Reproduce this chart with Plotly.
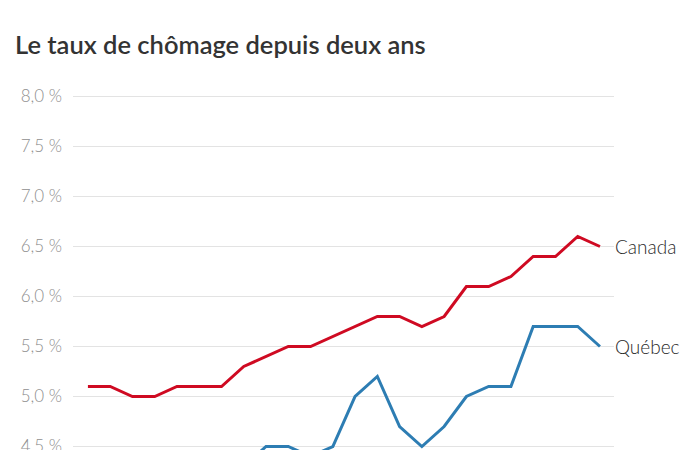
import plotly.graph_objects as go

months = ["2022-10", "2022-11", "2022-12", "2023-01", "2023-02", "2023-03",
          "2023-04", "2023-05", "2023-06", "2023-07", "2023-08", "2023-09",
          "2023-10", "2023-11", "2023-12", "2024-01", "2024-02", "2024-03",
          "2024-04", "2024-05", "2024-06", "2024-07", "2024-08", "2024-09"]
canada = [5.1, 5.1, 5.0, 5.0, 5.1, 5.1, 5.1, 5.3, 5.4, 5.5, 5.5, 5.6,
          5.7, 5.8, 5.8, 5.7, 5.8, 6.1, 6.1, 6.2, 6.4, 6.4, 6.6, 6.5]
quebec = [4.1, 4.0, 4.1, 4.0, 4.3, 4.1, 4.2, 4.3, 4.5, 4.5, 4.4, 4.5,
          5.0, 5.2, 4.7, 4.5, 4.7, 5.0, 5.1, 5.1, 5.7, 5.7, 5.7, 5.5]
tick_vals = [4.5, 5.0, 5.5, 6.0, 6.5, 7.0, 7.5, 8.0]
tick_text = ["4,5 %", "5,0 %", "5,5 %", "6,0 %", "6,5 %", "7,0 %", "7,5 %", "8,0 %"]
title = "Le taux de chômage depuis deux ans"

RED = "#cf0a22"
BLUE = "#2d7db3"
FONT = "Lato"

fig = go.Figure()
fig.add_trace(go.Scatter(x=months, y=canada, mode="lines", name="Canada",
                         line=dict(color=RED, width=3), hoverinfo="skip"))
fig.add_trace(go.Scatter(x=months, y=quebec, mode="lines", name="Québec",
                         line=dict(color=BLUE, width=3), hoverinfo="skip"))

fig.add_annotation(x=months[-1], y=canada[-1], text="Canada", showarrow=False,
                   xanchor="left", yanchor="middle", xshift=13,
                   font=dict(family=FONT, size=19, weight=300, color="#2a2a2a"))
fig.add_annotation(x=months[-1], y=quebec[-1], text="Québec", showarrow=False,
                   xanchor="left", yanchor="middle", xshift=13,
                   font=dict(family=FONT, size=19, weight=300, color="#2a2a2a"))

fig.update_layout(
    width=700, height=450,
    margin=dict(l=73, r=86, t=90, b=0, autoexpand=False),
    paper_bgcolor="white", plot_bgcolor="white",
    showlegend=False,
    title=dict(text=title, x=15 / 700, xanchor="left",
               yref="container", y=1 - 45 / 450, yanchor="middle",
               font=dict(family=FONT, size=25.5, weight=600, color="#333333")),
    xaxis=dict(type="category", range=[-0.67, 23.63], showgrid=False,
               showticklabels=False, zeroline=False, showline=False, ticks="",
               automargin=False),
    yaxis=dict(range=[4.465, 8.065], tickvals=tick_vals, ticktext=tick_text,
               showgrid=True, gridcolor="#e3e3e3", gridwidth=1,
               zeroline=False, showline=False, ticks="", automargin=False,
               ticklabelstandoff=10, ticklabeloverflow="allow",
               tickfont=dict(family=FONT, size=17, weight=300, color="#8f8f8f")),
)

fig.write_html("out.html")
